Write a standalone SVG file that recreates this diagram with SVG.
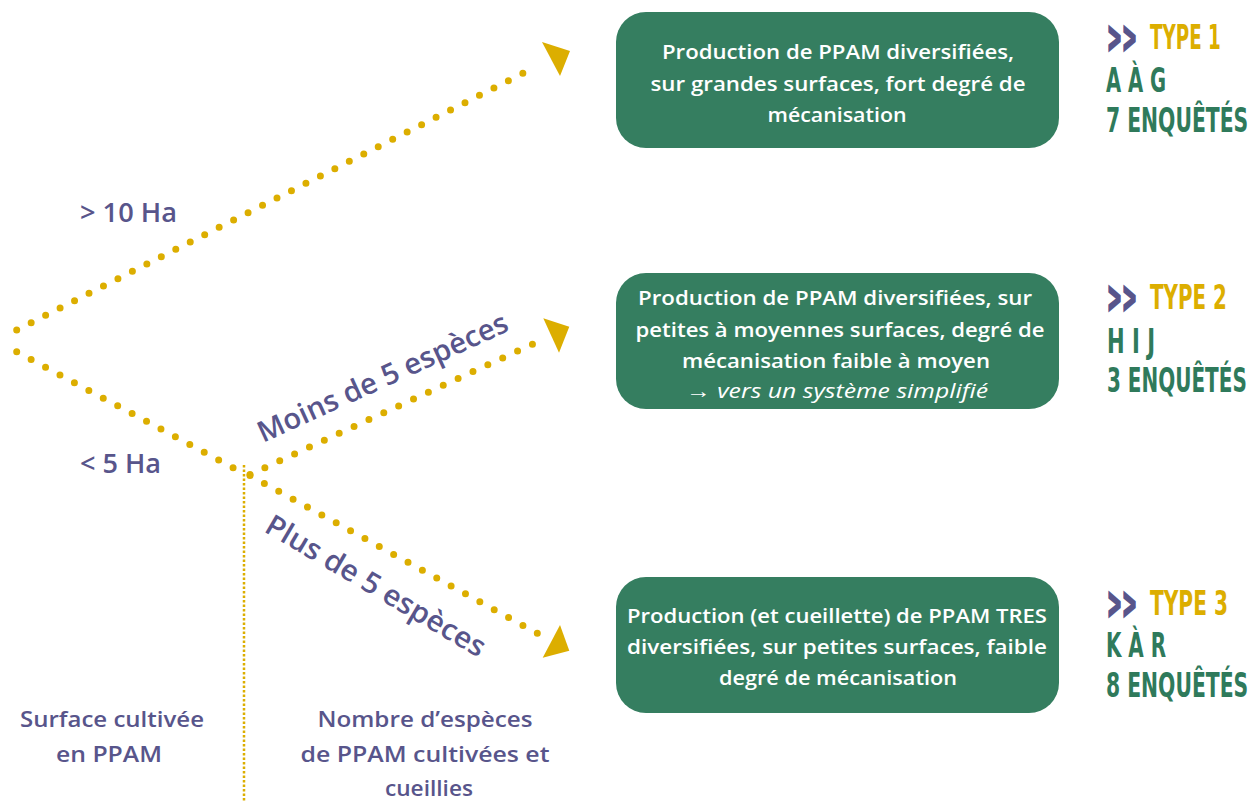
<svg xmlns="http://www.w3.org/2000/svg" width="1252" height="802" viewBox="0 0 1252 802">
<style>
.dot{fill:none;stroke:#dcae00;stroke-width:7;stroke-linecap:round;stroke-dasharray:0 1}
.head{fill:#dcae00}
.box{fill:#357e60}
.bt{font-family:"Open Sans","Liberation Sans",sans-serif;font-weight:600;font-size:20px;fill:#ffffff;text-anchor:middle}
.bi{font-family:"Open Sans","Liberation Sans",sans-serif;font-weight:400;font-style:italic;font-size:20px;fill:#ffffff;text-anchor:middle}
.pl{font-family:"Open Sans","Liberation Sans",sans-serif;font-weight:600;fill:#58558b}
.ty{font-family:"DejaVu Sans Condensed","Liberation Sans Narrow","Liberation Sans",sans-serif;font-weight:700;font-size:33px}
.chev{font-family:"DejaVu Sans","Liberation Sans",sans-serif;font-weight:700;font-size:42px;fill:#58558b;stroke:#58558b;stroke-width:2.5}
.yel{fill:#dcae00}
.grn{fill:#2f7a5b}
</style>
<rect width="1252" height="802" fill="#ffffff"/>
<g id="connectors">
  <path class="dot" pathLength="36" d="M16.7,330 L537.3,66"/>
  <path class="dot" pathLength="16" d="M16.7,351.7 L247.5,475.5"/>
  <path class="dot" pathLength="20" d="M250,474.5 L547.3,337.3"/>
  <path class="dot" pathLength="20" d="M250,475.5 L537.3,633.3"/>
  <polygon class="head" points="542,42 570,51 560,76"/>
  <polygon class="head" points="543.3,318.3 569.3,326.7 559,352.7"/>
  <polygon class="head" points="560,625 569.3,650.7 542.7,657.7"/>
  <line x1="244" y1="465" x2="244" y2="802" stroke="#dcae00" stroke-width="2.5" stroke-dasharray="2.5 2"/>
</g>
<g id="label-sup10">
  <text class="pl" x="80" y="222" font-size="27" textLength="97" lengthAdjust="spacingAndGlyphs">&gt; 10 Ha</text>
</g>
<g id="label-inf5">
  <text class="pl" x="80" y="473" font-size="27" textLength="81" lengthAdjust="spacingAndGlyphs">&lt; 5 Ha</text>
</g>
<g id="label-moins">
  <text class="pl" font-size="29" transform="translate(263,443) rotate(-24.5)" textLength="272" lengthAdjust="spacingAndGlyphs">Moins de 5 espèces</text>
</g>
<g id="label-plus">
  <text class="pl" font-size="29" transform="translate(263,531) rotate(30.5)" textLength="250" lengthAdjust="spacingAndGlyphs">Plus de 5 espèces</text>
</g>
<g id="axis-surface">
  <text class="pl" font-size="21" text-anchor="middle" x="112" y="727" textLength="184" lengthAdjust="spacingAndGlyphs">Surface cultivée</text>
  <text class="pl" font-size="21" text-anchor="middle" x="109" y="762" textLength="106" lengthAdjust="spacingAndGlyphs">en PPAM</text>
</g>
<g id="axis-especes">
  <text class="pl" font-size="21" text-anchor="middle" x="425" y="727" textLength="215" lengthAdjust="spacingAndGlyphs">Nombre d’espèces</text>
  <text class="pl" font-size="21" text-anchor="middle" x="425" y="762" textLength="249" lengthAdjust="spacingAndGlyphs">de PPAM cultivées et</text>
  <text class="pl" font-size="21" text-anchor="middle" x="429" y="796" textLength="88" lengthAdjust="spacingAndGlyphs">cueillies</text>
</g>
<g id="box-type1">
  <rect class="box" x="616" y="12" width="443" height="136" rx="30"/>
  <text class="bt" x="838" y="59" textLength="352" lengthAdjust="spacingAndGlyphs">Production de PPAM diversifiées,</text>
  <text class="bt" x="838" y="91" textLength="375" lengthAdjust="spacingAndGlyphs">sur grandes surfaces, fort degré de</text>
  <text class="bt" x="837" y="122" textLength="139" lengthAdjust="spacingAndGlyphs">mécanisation</text>
</g>
<g id="box-type2">
  <rect class="box" x="616" y="273" width="443" height="136" rx="30"/>
  <text class="bt" x="835" y="305" textLength="394" lengthAdjust="spacingAndGlyphs">Production de PPAM diversifiées, sur</text>
  <text class="bt" x="840" y="337" textLength="409" lengthAdjust="spacingAndGlyphs">petites à moyennes surfaces, degré de</text>
  <text class="bt" x="836" y="368" textLength="308" lengthAdjust="spacingAndGlyphs">mécanisation faible à moyen</text>
  <text class="bi" x="837" y="398" textLength="302" lengthAdjust="spacingAndGlyphs">→ vers un système simplifié</text>
</g>
<g id="box-type3">
  <rect class="box" x="616" y="577" width="443" height="136" rx="30"/>
  <text class="bt" x="837" y="623" textLength="420" lengthAdjust="spacingAndGlyphs">Production (et cueillette) de PPAM TRES</text>
  <text class="bt" x="837" y="654" textLength="420" lengthAdjust="spacingAndGlyphs">diversifiées, sur petites surfaces, faible</text>
  <text class="bt" x="838" y="685" textLength="238" lengthAdjust="spacingAndGlyphs">degré de mécanisation</text>
</g>
<g id="type1">
  <text class="chev" transform="translate(1107,52) scale(0.5,1)" textLength="60" lengthAdjust="spacingAndGlyphs">&gt;&gt;</text>
  <text class="ty yel" transform="translate(1150,49) scale(0.6,1)" textLength="118" lengthAdjust="spacingAndGlyphs">TYPE 1</text>
  <text class="ty grn" transform="translate(1106,92) scale(0.6,1)" textLength="100" lengthAdjust="spacingAndGlyphs">A À G</text>
  <text class="ty grn" transform="translate(1106,132) scale(0.6,1)" textLength="237" lengthAdjust="spacingAndGlyphs">7 ENQUÊTÉS</text>
</g>
<g id="type2">
  <text class="chev" transform="translate(1107,312) scale(0.5,1)" textLength="60" lengthAdjust="spacingAndGlyphs">&gt;&gt;</text>
  <text class="ty yel" transform="translate(1150,309) scale(0.6,1)" textLength="128" lengthAdjust="spacingAndGlyphs">TYPE 2</text>
  <text class="ty grn" transform="translate(1107,353) scale(0.6,1)" textLength="80" lengthAdjust="spacingAndGlyphs">H I J</text>
  <text class="ty grn" transform="translate(1107,392) scale(0.6,1)" textLength="233" lengthAdjust="spacingAndGlyphs">3 ENQUÊTÉS</text>
</g>
<g id="type3">
  <text class="chev" transform="translate(1107,618) scale(0.5,1)" textLength="60" lengthAdjust="spacingAndGlyphs">&gt;&gt;</text>
  <text class="ty yel" transform="translate(1150,615) scale(0.6,1)" textLength="130" lengthAdjust="spacingAndGlyphs">TYPE 3</text>
  <text class="ty grn" transform="translate(1106,657) scale(0.6,1)" textLength="100" lengthAdjust="spacingAndGlyphs">K À R</text>
  <text class="ty grn" transform="translate(1106,697) scale(0.6,1)" textLength="237" lengthAdjust="spacingAndGlyphs">8 ENQUÊTÉS</text>
</g>
</svg>
